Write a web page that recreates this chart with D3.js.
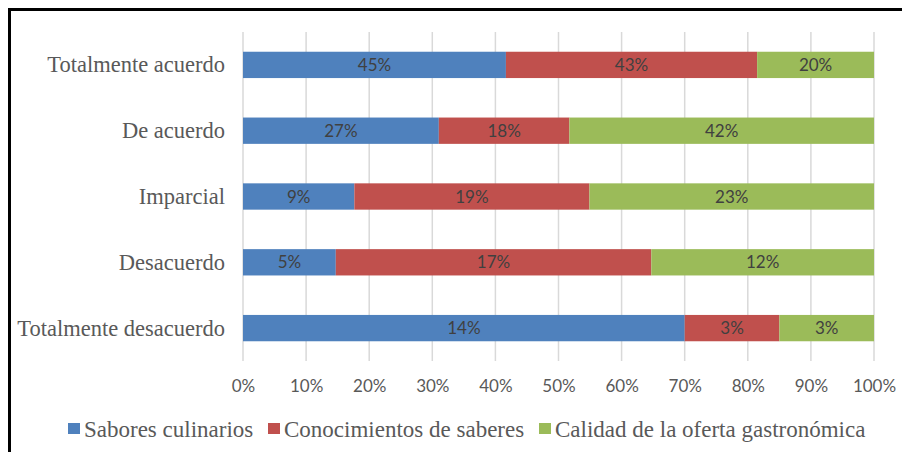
<!DOCTYPE html>
<html>
<head>
<meta charset="utf-8">
<script src="https://cdn.jsdelivr.net/npm/d3@7"></script>
<style>
  html, body { margin: 0; padding: 0; background: #fff; }
  svg { display: block; }
</style>
</head>
<body>
<svg id="chart" width="902" height="452"></svg>
<script>
// Response categories (top to bottom)
const categories = ["Totalmente acuerdo", "De acuerdo", "Imparcial", "Desacuerdo", "Totalmente desacuerdo"];
// Series names
const seriesNames = ["Sabores culinarios", "Conocimientos de saberes", "Calidad de la oferta gastronómica"];
// Values per series (percent), in category order
const sabores = [45, 27, 9, 5, 14];
const conocimientos = [43, 18, 19, 17, 3];
const calidad = [20, 42, 23, 12, 3];
// Axis tick values
const ticks = [0, 0.1, 0.2, 0.3, 0.4, 0.5, 0.6, 0.7, 0.8, 0.9, 1.0];

const colors = ["#4F81BD", "#C0504D", "#9BBB59"];
const seriesValues = [sabores, conocimientos, calidad];

const rows = categories.map((c, i) => {
  const r = { category: c };
  seriesNames.forEach((s, j) => { r[s] = seriesValues[j][i]; });
  return r;
});

const stacked = d3.stack()
  .keys(seriesNames)
  .offset(d3.stackOffsetExpand)(rows);

const svg = d3.select("#chart");
const serif = "'Liberation Serif', 'Times New Roman', serif";
const sans = "Lato, 'Open Sans', sans-serif";

// Outer frame (top and left edges visible)
svg.append("rect")
  .attr("x", 9.5).attr("y", 9.5)
  .attr("width", 1000).attr("height", 1000)
  .attr("fill", "none").attr("stroke", "#000").attr("stroke-width", 3);

const x = d3.scaleLinear().domain([0, 1]).range([243, 874]);
const y = d3.scaleBand().domain(categories).range([32, 361]).paddingInner(0.6).paddingOuter(0.3);

// Vertical gridlines
svg.append("g").selectAll("line").data(ticks).join("line")
  .attr("x1", d => x(d)).attr("x2", d => x(d))
  .attr("y1", 32).attr("y2", 361)
  .attr("stroke", "#d9d9d9").attr("stroke-width", 1.5);

// Bars
const layers = svg.append("g").selectAll("g").data(stacked).join("g")
  .attr("fill", (d, i) => colors[i]);

layers.selectAll("rect").data(d => d).join("rect")
  .attr("x", d => x(d[0]))
  .attr("width", d => x(d[1]) - x(d[0]))
  .attr("y", d => y(d.data.category))
  .attr("height", y.bandwidth());

// Data labels
layers.each(function(layer) {
  d3.select(this).selectAll("text").data(layer).join("text")
    .attr("x", d => (x(d[0]) + x(d[1])) / 2)
    .attr("y", d => y(d.data.category) + y.bandwidth() / 2)
    .attr("dy", "0.36em")
    .attr("text-anchor", "middle")
    .attr("font-family", sans)
    .attr("font-size", 17)
    .attr("fill", "#404040")
    .text(d => d.data[layer.key] + "%");
});

// Category axis labels
svg.append("g").selectAll("text").data(categories).join("text")
  .attr("x", 225)
  .attr("y", d => y(d) + y.bandwidth() / 2)
  .attr("dy", "0.33em")
  .attr("text-anchor", "end")
  .attr("font-family", serif)
  .attr("font-size", 22.5)
  .attr("fill", "#595959")
  .text(d => d);

// Value axis
const xAxis = d3.axisBottom(x).tickValues(ticks).tickFormat(d3.format(".0%")).tickSize(0).tickPadding(0);
const ax = svg.append("g").attr("transform", "translate(0,386)").call(xAxis);
ax.select(".domain").remove();
ax.selectAll("text")
  .attr("font-family", sans)
  .attr("font-size", 17)
  .attr("fill", "#595959")
  .attr("dy", "0.36em");

// Legend
const legendX = [68, 268, 539];
const legend = svg.append("g").selectAll("g").data(seriesNames).join("g")
  .attr("transform", (d, i) => `translate(${legendX[i]},429)`);
legend.append("rect")
  .attr("x", 0).attr("y", -6).attr("width", 12).attr("height", 11)
  .attr("fill", (d, i) => colors[i]);
legend.append("text")
  .attr("x", 16).attr("y", 0).attr("dy", "0.33em")
  .attr("font-family", serif)
  .attr("font-size", 23)
  .attr("fill", "#595959")
  .text(d => d);
</script>
</body>
</html>
